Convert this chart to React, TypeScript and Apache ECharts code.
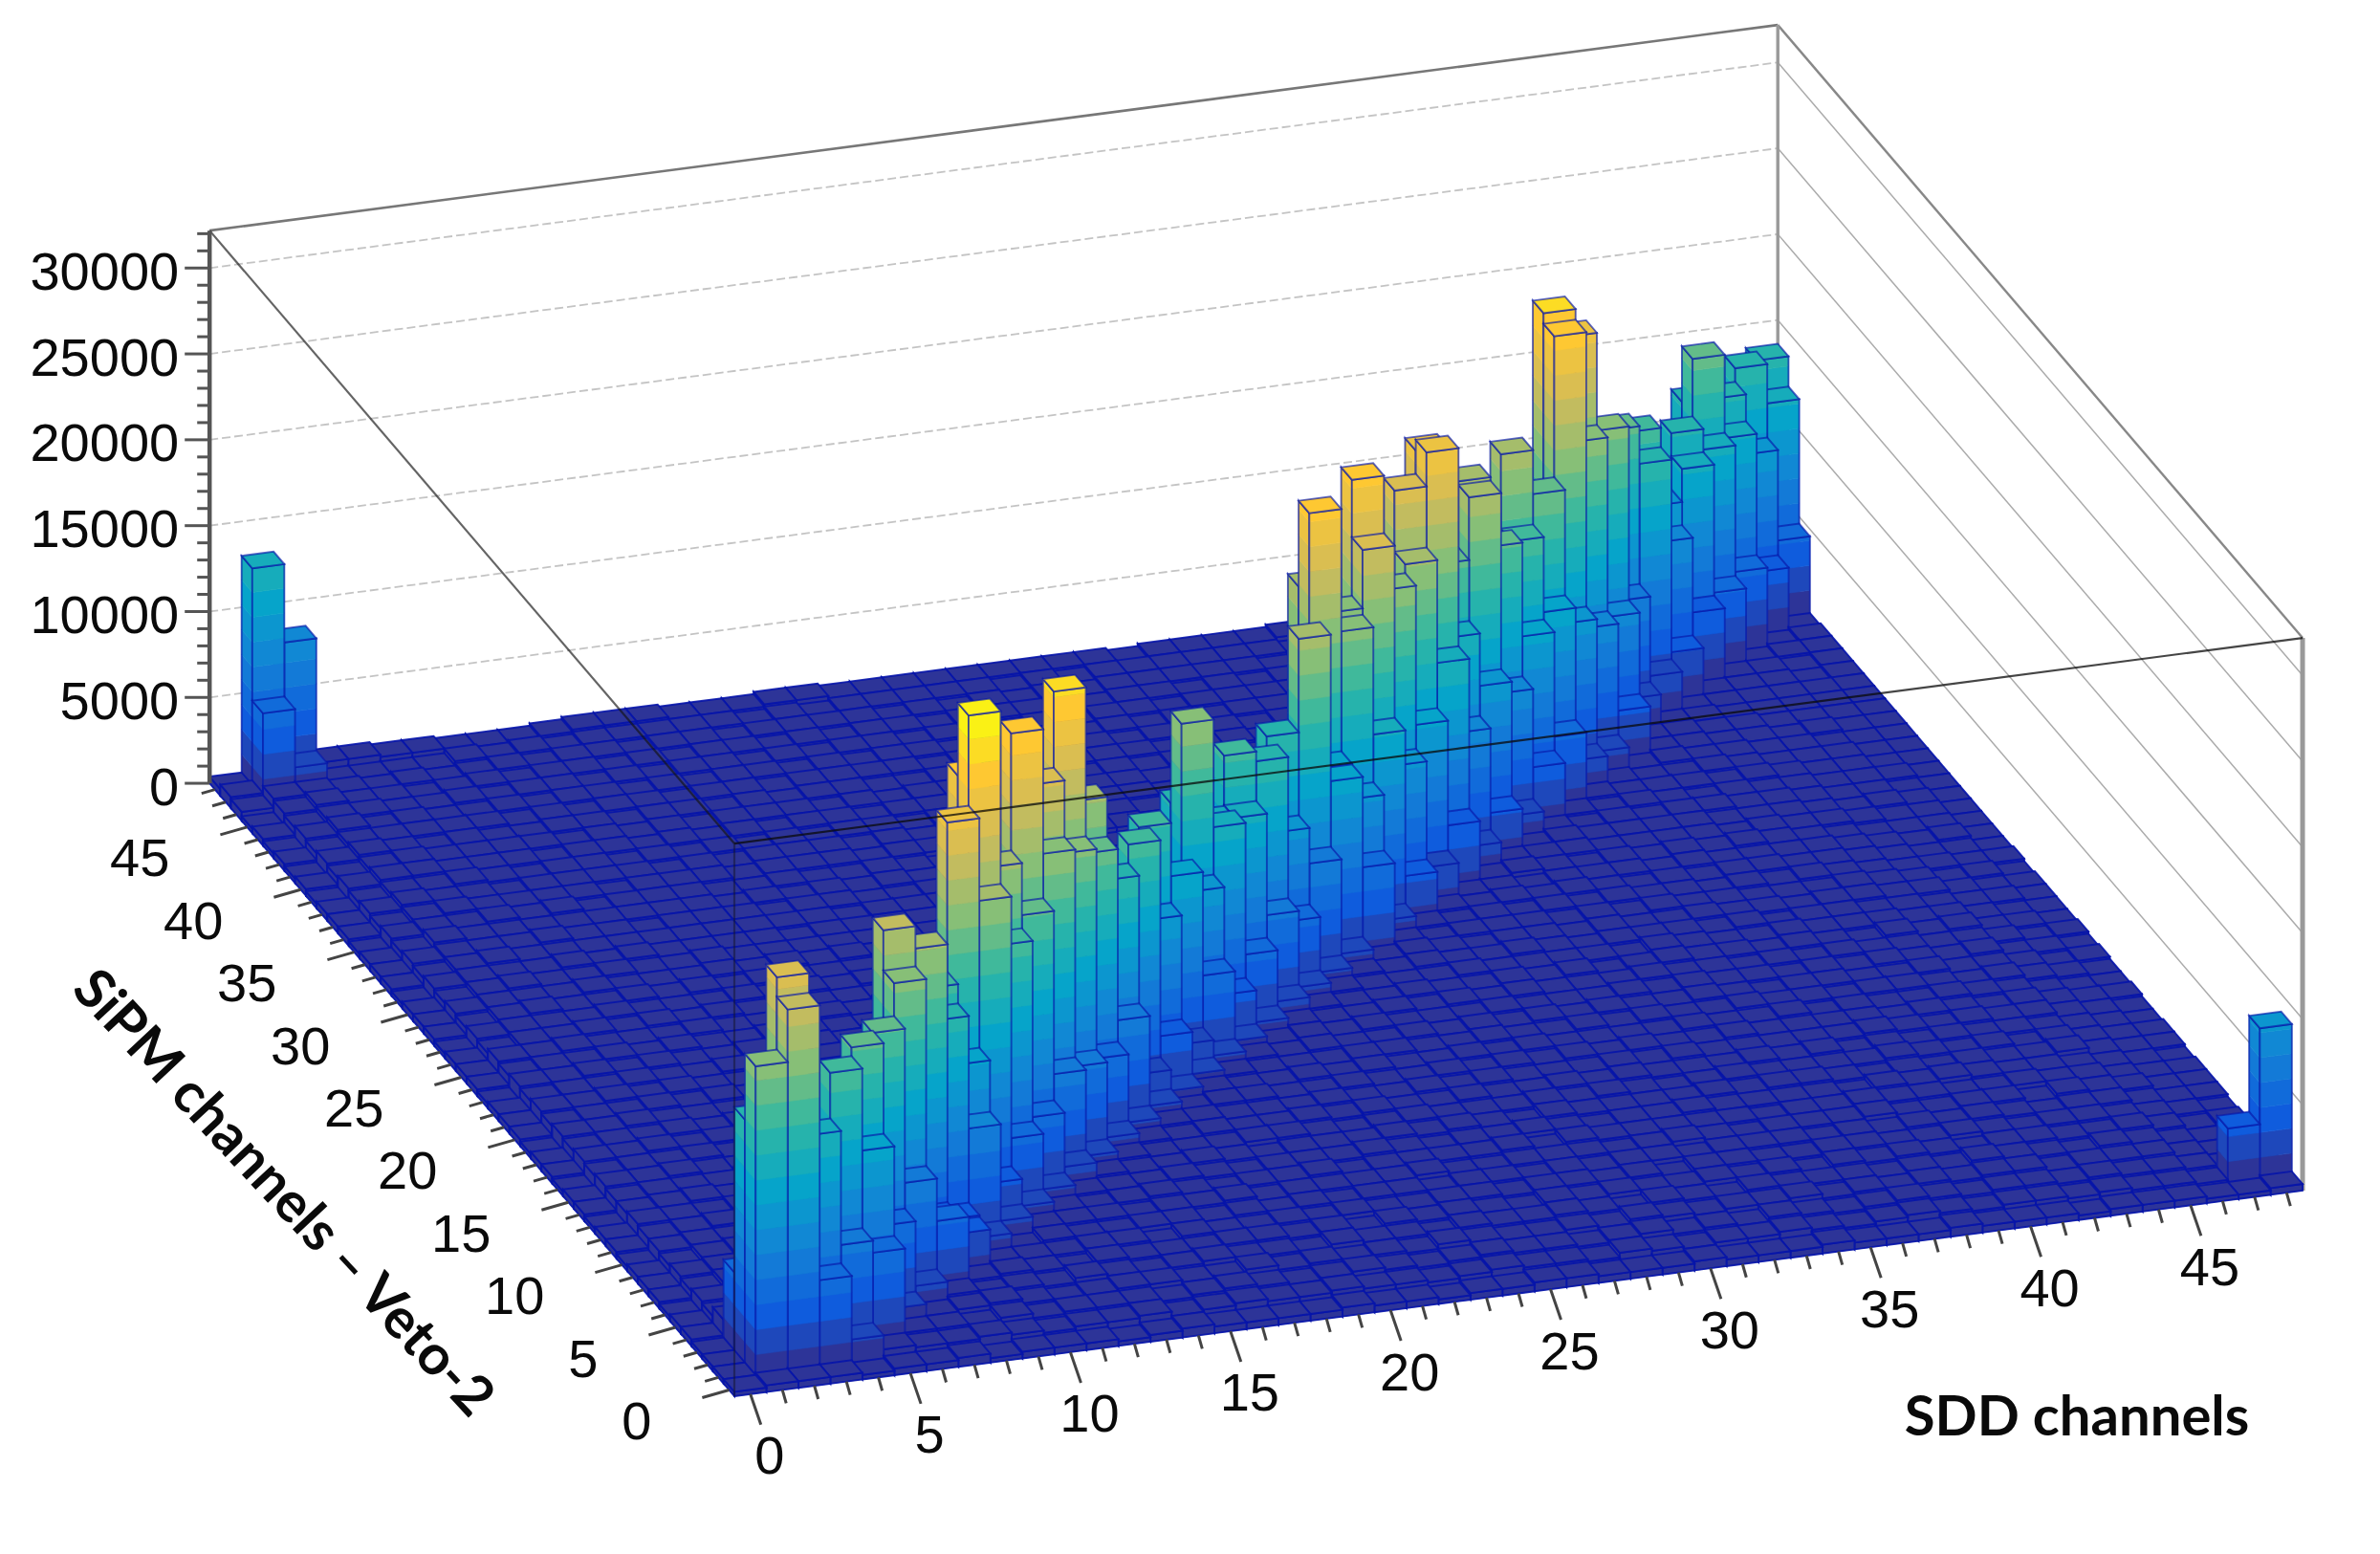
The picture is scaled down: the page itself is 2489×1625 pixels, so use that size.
import React, { useEffect, useRef } from "react";
import * as echarts from "echarts";

// ---------- data ----------
const zTickValues = [0, 5000, 10000, 15000, 20000, 25000, 30000];
const zTickLabels = ["0", "5000", "10000", "15000", "20000", "25000", "30000"];
const xTickLabels = ["0", "5", "10", "15", "20", "25", "30", "35", "40", "45"];
const yTickLabels = ["0", "5", "10", "15", "20", "25", "30", "35", "40", "45"];
const xTitle = "SDD channels";
const yTitle = "SiPM channels – Veto-2";

// floor of the lego plot: one string per SiPM channel, one digit per SDD channel, in units of 130 counts
const FLOOR_UNIT = 130;
const floorRows = [
  "2333233 4233323 4333343 3233443 3343334 3334333 2333223",
  "2455465 5654556 4565565 5456554 6545565 4565455 4544332",
  "2566576 6575666 5676567 6567665 6756576 5676566 5655433",
  "2567687 6786567 7668676 7687667 6876778 6767677 5666433",
  "3678768 7867687 6787768 7768778 7687687 7767687 6576434",
  "3678877 8678768 7778878 6878768 7877878 6878767 7667534",
  "2787688 7887778 8687787 8778878 8786887 7887787 6776543",
  "3688787 8788687 7887878 7887887 8788788 8787878 7677544",
  "3788878 7889788 8788978 8889778 8878987 8889778 8687644",
  "3689887 8978888 7898788 9788889 7988888 7889887 7877544",
  "2788978 8878989 8889878 8898788 9878898 8887989 8776543",
  "3789887 9888798 8988987 8889898 7988889 8998787 8778544",
  "3888988 8798898 8898889 9878988 8989878 9888898 7867544",
  "2789889 8989878 9889898 8989889 8898988 8989787 8776543",
  "3788898 9888989 8988998 8898898 9888989 8888898 7877543",
  "3889889 8989898 8899889 9889889 8989898 8988887 8767544",
  "2788988 9889898 9888989 8898988 9898888 9889787 7876433",
  "3889898 8998988 8989898 9888998 8988989 8898878 8767543",
  "3788989 8889899 8898989 8989889 8989898 8987887 7866534",
  "2889888 9898889 8989889 9889898 8898889 8988787 8767443",
  "3788989 8989898 9888998 8989889 8989888 9887878 7766534",
  "3889898 8898989 8989889 8898988 9889897 8988787 6867443",
  "3788988 9889889 8898989 8989898 8898888 7987787 7766433",
  "2889898 8989898 9889889 8989889 8988987 8887867 7665443",
  "3788989 8899889 8989898 9888988 8987887 8778776 7766433",
  "3889888 9888989 8898989 8989888 9878887 8787766 6765342",
  "3688989 8989888 9889889 8888988 7887878 7877676 7654433",
  "2788898 8898989 8989888 9887887 8788787 8767677 6654332",
  "3689889 8989888 9888898 8878878 7878776 7776766 6654342",
  "3788898 8898989 8788887 8788787 8777878 7676767 6543332",
  "3689889 8898888 8888788 7887878 7787767 7766665 6554332",
  "2788898 9888878 8887878 8778787 7776777 6766665 5543432",
  "3689888 8888888 7888787 8787677 7677667 7656566 5543322",
  "3788898 8788878 8778787 7778776 7667766 6665654 5443332",
  "3698888 8888787 8787778 7667776 6766676 5656555 4543322",
  "2788989 7888778 7787677 7766767 6656665 6555544 5433322",
  "3689888 8788878 8878887 8788787 8887878 8887445 4433222",
  "3798878 8887878 8878788 7888787 8788887 8878644 4332322",
  "3688987 8878787 8788788 7878878 8887878 8887864 4332222",
  "2799888 7887878 7887887 8788878 7888787 8788785 3322222",
  "3689888 8787878 8878788 7887878 8788878 8878887 5222222",
  "2798787 7887887 8788778 8788887 8878787 8887878 7322212",
  "3688888 7878878 8788887 8787878 8878887 8788878 8422212",
  "2797877 8788787 8878788 7888787 8788878 8887878 8742122",
  "3688778 7887878 8787887 8878788 7888878 8788787 8875212",
  "2797767 8788787 8878788 7888878 8787888 8887878 8887411",
  "4887676 7878878 8788887 8787878 8888787 8888888 8888511",
  "5896666 8787888 8878788 8887878 8888878 8888788 8888863",
  "3999988 7778999 8889988 8888888 7888898 8888888 8999999",
];

// correlated cells: [SDD channel, SiPM channel, counts]
const diagonalZero = [
  [1,1,18240],[2,2,22450],[3,3,12000],[4,4,14000],[5,5,13000],[6,6,14000],[7,7,20320],[8,8,15000],[9,9,15000],
  [10,10,23680],[11,11,28940],[12,12,19130],[13,13,25950],[14,14,22000],[15,15,26440],[16,16,19100],[17,17,13000],
  [18,18,12000],[19,19,14650],[20,20,10000],[21,21,18730],[22,22,12000],[23,23,14930],[24,24,11000],[25,25,14100],
  [26,26,13000],[27,27,25150],[28,28,18400],[29,29,25150],[30,30,15000],[31,31,22580],[32,32,23930],[33,33,16350],
  [34,34,20200],[35,35,12000],[36,36,19830],[37,37,12000],[38,38,26100],[39,39,23740],[40,40,14000],[41,41,16360],
  [42,42,15290],[43,43,10000],[44,44,13280],[45,45,16630],[46,46,13350],[47,47,14140],[48,48,13620],
];
const diagonalPlusOne = [
  [2,1,21300],[3,2,13010],[4,3,15670],[5,4,16180],[6,5,16050],[7,6,17970],[8,7,19020],[9,8,13870],[10,9,10320],
  [11,10,18880],[12,11,15330],[13,12,16100],[14,13,18700],[15,14,17760],[16,15,16780],[17,16,14260],[18,17,15350],
  [19,18,10000],[20,19,11560],[21,20,9700],[22,21,12470],[23,22,12040],[24,23,14360],[25,24,9260],[26,25,19540],
  [27,26,11050],[28,27,18030],[29,28,21800],[30,29,18500],[31,30,19020],[32,31,24560],[33,32,12800],[34,33,20000],
  [35,34,16150],[36,35,15500],[37,36,17270],[38,37,25480],[39,38,18380],[40,39,18050],[41,40,7170],[42,41,14170],
  [43,42,8650],[44,43,11930],[45,44,12080],[46,45,11780],[47,46,9860],[48,47,11850],
];
const diagonalPlusTwo = [
  [3,1,5300],[4,2,6380],[5,3,10900],[6,4,5570],[7,5,7080],[8,6,4000],[9,7,3000],[10,8,7320],[11,9,3170],[12,10,4820],
  [13,11,5070],[14,12,6600],[15,13,6070],[16,14,5560],[17,15,6820],[18,16,2710],[19,17,3950],[20,18,2500],[21,19,5530],
  [22,20,3450],[23,21,4810],[24,22,6130],[25,23,4800],[26,24,7190],[27,25,11010],[28,26,9000],[29,27,11780],[30,28,9000],
  [31,29,10400],[32,30,13030],[33,31,8000],[34,32,9750],[35,33,8350],[36,34,10690],[37,35,11130],[38,36,9500],[39,37,8260],
  [40,38,7930],[41,39,2200],[42,40,2550],[43,41,2960],[44,42,4300],[45,43,4480],[46,44,4720],[47,45,3740],[48,46,4600],
];
const diagonalPlusThree = [
  [4,1,1600],[5,2,5680],[6,3,1470],[7,4,1800],[8,5,4610],[9,6,2900],[10,7,1700],[11,8,1700],[12,9,1600],[13,10,1600],
  [14,11,1930],[15,12,1600],[16,13,1700],[17,14,1600],[18,15,1600],[19,16,1500],[20,17,1500],[21,18,1600],[22,19,1500],
  [23,20,1600],[24,21,1840],[25,22,1700],[26,23,1600],[27,24,1700],[28,25,5750],[29,26,1700],[30,27,3300],[31,28,2840],
  [32,29,4300],[33,30,2100],[34,31,3090],[35,32,1950],[36,33,3800],[37,34,4600],[38,35,2260],[39,36,1800],[40,37,3200],
];
const otherCells = [
  [1,2,14400],[1,3,4790],[1,4,1300],[11,12,24700],[21,22,13370],[27,28,20150],[45,46,13400],
  [1,48,13000],[2,48,8440],[1,47,5290],[2,47,1900],[47,1,3380],[48,1,8970],
];

// ---------- projection of the lego box (pixels of the 2489x1625 page) ----------
const BINS = 49;
const ORIGIN = [768, 1460];
const X_STEP = [33.47, -4.388];
const Y_STEP = [-11.2, -13.08];
const Z_SCALE = 0.01796;
const Z_TOP = 32180;
const Z_STEP = 1450;

const project = (u: number, v: number, z: number): number[] => [
  ORIGIN[0] + u * X_STEP[0] + v * Y_STEP[0],
  ORIGIN[1] + u * X_STEP[1] + v * Y_STEP[1] - z * Z_SCALE,
];

const PALETTE = [
  [53, 42, 135], [15, 92, 221], [20, 129, 214], [6, 164, 202], [46, 183, 164],
  [135, 191, 119], [209, 187, 89], [254, 200, 50], [249, 251, 14],
];
const levelColor = (k: number): string => {
  const t = Math.min(0.999, (Math.min(k, 19) + 0.5) / 20) * (PALETTE.length - 1);
  const a = Math.floor(t);
  const f = t - a;
  const c = [0, 1, 2].map((n) => Math.round(PALETTE[a][n] + (PALETTE[a + 1][n] - PALETTE[a][n]) * f));
  return `rgb(${c[0]},${c[1]},${c[2]})`;
};

const EDGE_BAR = "rgba(8,24,170,0.66)";
const EDGE_FLOOR = "rgba(6,20,170,0.9)";

function buildCells(): number[][] {
  const matrix = floorRows.map((r) => r.replace(/ /g, "").split("").map((d) => Number(d) * FLOOR_UNIT));
  [diagonalZero, diagonalPlusOne, diagonalPlusTwo, diagonalPlusThree, otherCells].forEach((list) =>
    list.forEach(([i, j, z]) => {
      matrix[j][i] = z;
    }),
  );
  const out: number[][] = [];
  for (let j = BINS - 1; j >= 0; j--) for (let i = BINS - 1; i >= 0; i--) out.push([i, j, matrix[j][i]]);
  return out;
}

function renderCell(_: any, api: any) {
  const i = api.value(0);
  const j = api.value(1);
  const z = api.value(2);
  const edge = z < Z_STEP ? EDGE_FLOOR : EDGE_BAR;
  const pt = (u: number, v: number, h: number) => api.coord(project(u, v, h));
  const children: any[] = [];
  const side = (u0: number, v0: number, u1: number, v1: number) => {
    const n = Math.floor(z / Z_STEP);
    for (let k = 0; k <= n; k++) {
      const lo = k * Z_STEP;
      const hi = Math.min(z, (k + 1) * Z_STEP);
      if (hi <= lo) continue;
      const col = levelColor(k);
      children.push({
        type: "polygon",
        shape: { points: [pt(u0, v0, lo), pt(u1, v1, lo), pt(u1, v1, hi), pt(u0, v0, hi)] },
        style: { fill: col, stroke: col, lineWidth: 0.6 },
        silent: true,
      });
    }
    children.push({
      type: "polygon",
      shape: { points: [pt(u0, v0, 0), pt(u1, v1, 0), pt(u1, v1, z), pt(u0, v0, z)] },
      style: { fill: "none", stroke: edge, lineWidth: 1.9 },
      silent: true,
    });
  };
  side(i, j + 1, i, j);
  side(i, j, i + 1, j);
  children.push({
    type: "polygon",
    shape: { points: [pt(i, j, z), pt(i + 1, j, z), pt(i + 1, j + 1, z), pt(i, j + 1, z)] },
    style: { fill: levelColor(Math.floor(z / Z_STEP)), stroke: edge, lineWidth: 1.9 },
    silent: true,
  });
  return { type: "group", children };
}

function line(a: number[], b: number[], stroke: string, lineWidth: number, z: number, lineDash?: number[]) {
  return {
    type: "line",
    silent: true,
    z,
    shape: { x1: a[0], y1: a[1], x2: b[0], y2: b[1] },
    style: { stroke, lineWidth, lineDash, fill: "none" },
  };
}

function label(text: string, x: number, y: number, align: string, font: string, extra: any = {}) {
  return {
    type: "text",
    silent: true,
    z: 12,
    x,
    y,
    ...extra,
    style: { text, font, fill: "#0a0a0a", textAlign: align, textVerticalAlign: "middle", align, verticalAlign: "middle" },
  };
}

function buildGraphic() {
  const els: any[] = [];
  const L = (z: number) => project(0, BINS, z);
  const B = (z: number) => project(BINS, BINS, z);
  const R = (z: number) => project(BINS, 0, z);
  const F = (z: number) => project(0, 0, z);
  const tickFont = '56px "Liberation Sans", Arial, sans-serif';

  zTickValues.forEach((v) => {
    if (v === 0) return;
    els.push(line(L(v), B(v), "#c4c4c4", 1.8, 0, [9, 4]));
    els.push(line(B(v), R(v), "#ababab", 1.5, 0));
  });
  els.push(line(L(Z_TOP), B(Z_TOP), "#777", 2.6, 0));
  els.push(line(B(Z_TOP), R(Z_TOP), "#888", 2.4, 0));
  els.push(line(B(0), B(Z_TOP), "#999", 3.4, 0));
  els.push(line(R(0), R(Z_TOP), "#999", 5, 0));

  // front edges of the box, over the histogram
  els.push(line(L(Z_TOP), F(Z_TOP), "rgba(20,20,20,0.66)", 2.2, 10));
  els.push(line(F(Z_TOP), R(Z_TOP), "rgba(10,10,10,0.76)", 2.2, 10));
  els.push(line(F(0), F(Z_TOP), "rgba(20,20,40,0.5)", 2.2, 10));

  // z axis
  els.push(line(L(0), L(Z_TOP), "#555", 4.5, 11));
  for (let v = 0; v <= Z_TOP; v += 1000) {
    const p = L(v);
    const major = v % 5000 === 0;
    els.push(line([p[0] - (major ? 26 : 13), p[1]], p, "#555", 3, 11));
  }
  zTickValues.forEach((v, n) => {
    const p = L(v);
    els.push(label(zTickLabels[n], p[0] - 32, p[1] + 3, "right", tickFont));
  });

  // x axis
  for (let n = 0; n < BINS; n++) {
    const p = project(n + 0.5, 0, 0);
    const major = n % 5 === 0;
    els.push(line(p, [p[0] + (major ? 11 : 4), p[1] + (major ? 32 : 14)], "#444", 3, 11));
  }
  xTickLabels.forEach((t) => {
    const p = project(Number(t) + 0.5, 0, 0);
    els.push(label(t, p[0] + 20, p[1] + 64, "center", tickFont));
  });

  // y axis
  for (let n = 0; n < BINS; n++) {
    const p = project(0, n + 0.5, 0);
    const major = n % 5 === 0;
    els.push(line(p, [p[0] - (major ? 28 : 14), p[1] + (major ? 8 : 4)], "#444", 3, 11));
  }
  yTickLabels.forEach((t) => {
    const p = project(0, Number(t) + 0.5, 0);
    els.push(label(t, p[0] - 81, p[1] + 32, "right", tickFont));
  });

  const titleFont = 'bold 58px Lato, "Open Sans", sans-serif';
  els.push(label(xTitle, 2172, 1478, "center", titleFont));
  els.push(label(yTitle, 299, 1245, "center", titleFont, { rotation: (-47 * Math.PI) / 180 }));
  return els;
}

export default function App() {
  const ref = useRef<HTMLDivElement>(null);
  useEffect(() => {
    const chart = echarts.init(ref.current!, undefined, { renderer: "svg" });
    chart.setOption({
      animation: false,
      backgroundColor: "#fff",
      grid: { left: 0, right: 0, top: 0, bottom: 0 },
      xAxis: { type: "value", min: 0, max: 2489, show: false },
      yAxis: { type: "value", min: 0, max: 1625, inverse: true, show: false },
      graphic: { elements: buildGraphic() },
      series: [
        {
          type: "custom",
          coordinateSystem: "cartesian2d",
          clip: false,
          silent: true,
          z: 5,
          renderItem: renderCell,
          encode: { x: 0, y: 1 },
          data: buildCells(),
        },
      ],
    });
    return () => chart.dispose();
  }, []);
  return (
    <div
      ref={ref}
      style={{ position: "absolute", left: 0, top: 0, width: 2489, height: 1625, filter: "blur(0.5px)" }}
    />
  );
}
